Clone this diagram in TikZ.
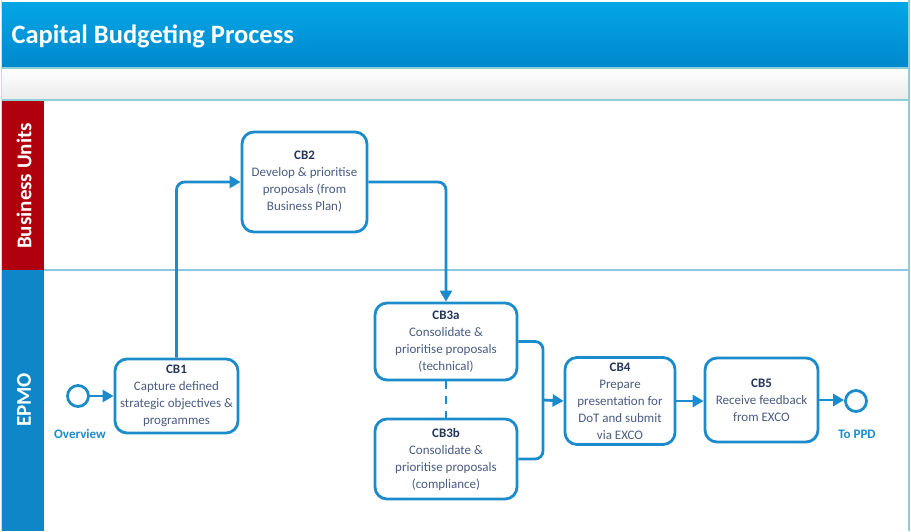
\documentclass[tikz,border=0pt]{standalone}
\usepackage{fontspec}
\setmainfont{Carlito}
\usetikzlibrary{arrows.meta}

\definecolor{titletop}{HTML}{04A6E6}
\definecolor{titlebot}{HTML}{0088CC}
\definecolor{framec}{HTML}{8CCFD6}
\definecolor{lanered}{HTML}{B0000E}
\definecolor{laneblue}{HTML}{0E86C8}
\definecolor{flow}{HTML}{1B8BCB}
\definecolor{boxtext}{HTML}{4A5C82}
\definecolor{boxhead}{HTML}{26355A}
\definecolor{divider}{HTML}{8FC6E2}

\tikzset{
  task/.style={draw=flow, line width=2.8pt, rounded corners=12pt, fill=white,
    align=center, text=boxtext, font=\fontsize{13}{17}\selectfont, inner sep=1pt},
  flowline/.style={draw=flow, line width=2.8pt},
  arr/.style={flowline, -{Triangle[length=11pt,width=12pt]}},
  event/.style={circle, draw=flow, line width=2.8pt, minimum size=21pt, inner sep=0pt, fill=white},
  evlabel/.style={text=flow, font=\fontsize{13}{15}\selectfont\bfseries},
  lanelabel/.style={rotate=90, text=white, font=\fontsize{21}{24}\selectfont\bfseries}
}

\newcommand{\taskhead}[1]{{\color{boxhead}\bfseries #1}}

\begin{document}
\begin{tikzpicture}[x=1pt,y=-1pt]
\useasboundingbox (0,0) rectangle (911,531);
\fill[white] (0,0) rectangle (911,531);

% header band and title
\shade[top color=titletop, bottom color=titlebot] (2,2) rectangle (908,68);
\node[anchor=west, text=white, font=\fontsize{26.5}{28}\selectfont\bfseries] (title) at (8,36) {Capital Budgeting Process};

% light strip under the header
\shade[top color=white, bottom color=black!8] (2,68) rectangle (908,100);
\draw[framec, line width=1.2pt] (2,68) -- (908,68);
\draw[framec, line width=1.5pt] (2,100) -- (908,100);
\draw[framec, line width=2pt] (909,0) -- (909,531);
\draw[framec!60, line width=0.8pt] (1,0) -- (1,531);

% swimlane headers
\fill[lanered] (2,101) rectangle (44,270);
\fill[laneblue] (2,270) rectangle (44,531);
\node[lanelabel] (bu) at (24,186) {Business Units};
\node[lanelabel] (epmo) at (24,400) {EPMO};
\draw[divider, line width=1.3pt] (44,270) -- (908,270);

% tasks
\node[task, minimum width=123pt, minimum height=74pt] (cb1) at (176.5,396)
  {\taskhead{CB1}\\Capture defined\\strategic objectives \&\\programmes};
\node[task, minimum width=125pt, minimum height=100pt] (cb2) at (304.5,182)
  {\taskhead{CB2}\\Develop \& prioritise\\proposals (from\\Business Plan)};
\node[task, minimum width=142pt, minimum height=77pt] (cb3a) at (446,341.5)
  {\taskhead{CB3a}\\Consolidate \&\\prioritise proposals\\(technical)};
\node[task, minimum width=142pt, minimum height=80pt] (cb3b) at (446,459)
  {\taskhead{CB3b}\\Consolidate \&\\prioritise proposals\\(compliance)};
\node[task, minimum width=110pt, minimum height=87pt] (cb4) at (620,401)
  {\taskhead{CB4}\\Prepare\\presentation for\\DoT and submit\\via EXCO};
\node[task, minimum width=113pt, minimum height=84pt] (cb5) at (761.5,400)
  {\taskhead{CB5}\\Receive feedback\\from EXCO};

% events
\node[event] (start) at (78,396) {};
\node[evlabel] (startlbl) at (80,434) {Overview};
\node[event] (end) at (856,401) {};
\node[evlabel] (endlbl) at (857,434) {To PPD};

\coordinate (merge) at (543,400);

% flows
\draw[arr] (start) -- (cb1);
\draw[arr, rounded corners=8pt] (cb1.north) |- (cb2.west);
\draw[arr, rounded corners=8pt] (cb2.east) -| (cb3a.north);
\draw[flowline, dash pattern=on 8pt off 7pt] (cb3a.south) -- (cb3b.north);
\draw[flowline, rounded corners=8pt] (cb3a.east) -| (merge);
\draw[flowline, rounded corners=8pt] (cb3b.east) -| (merge);
\draw[arr] (merge) -- (cb4.west);
\draw[arr] (cb4.east) -- (cb5.west |- cb4.east);
\draw[arr] (cb5.east) -- (end.west |- cb5.east);
\end{tikzpicture}
\end{document}
